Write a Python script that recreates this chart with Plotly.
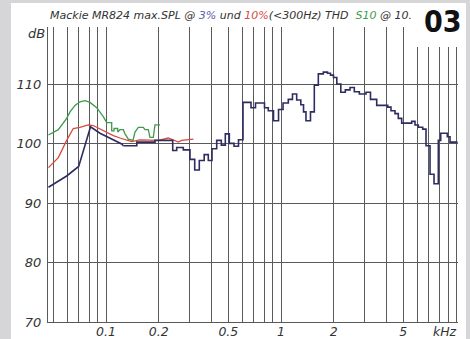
import plotly.graph_objects as go

# ---- data (frequency in kHz, level in dB) ----
blue_smooth_f = [0.0469, 0.0596, 0.0698, 0.0803, 0.0816, 0.0924, 0.1068, 0.123, 0.1256]
blue_smooth_db = [92.7, 94.6, 96.2, 102.6, 102.9, 101.8, 100.9, 100.0, 99.7]

blue_step_f = [0.1256, 0.150, 0.1905, 0.2406, 0.2535, 0.2765, 0.302, 0.3213, 0.3413, 0.364,
               0.3842, 0.4034, 0.4292, 0.456, 0.4806, 0.5066, 0.539, 0.5717, 0.6066, 0.674,
               0.715, 0.805, 0.846, 0.906, 0.968, 1.027, 1.101, 1.163, 1.229, 1.298,
               1.345, 1.389, 1.474, 1.550, 1.634, 1.745, 1.844, 1.918, 1.995, 2.084,
               2.197, 2.331, 2.480, 2.624, 2.803, 3.060, 3.246, 3.523, 4.072, 4.252,
               4.481, 4.680, 4.894, 5.583, 5.831, 6.090, 6.453, 6.740, 7.104, 7.488,
               7.924, 8.178, 8.919, 9.241, 10.1]
blue_step_db = [99.7, 100.3, 100.6, 98.9, 99.4, 99.0, 97.4, 95.6, 97.2, 98.2,
                97.2, 99.2, 100.6, 99.8, 101.7, 100.1, 99.6, 100.7, 107.0, 106.1,
                106.9, 106.1, 105.6, 103.9, 105.8, 106.9, 107.5, 108.4, 107.4, 106.6,
                105.4, 103.9, 105.4, 109.9, 111.8, 112.1, 111.9, 111.6, 111.2, 110.1,
                108.7, 109.1, 109.5, 108.8, 108.4, 108.7, 107.5, 106.5, 106.2, 105.6,
                105.1, 104.3, 103.5, 103.8, 103.2, 102.8, 102.5, 99.7, 94.9, 93.3,
                100.6, 101.8, 101.2, 100.3, 100.1]

red_f = [0.0469, 0.0534, 0.0596, 0.0650, 0.0710, 0.0792, 0.0846, 0.0924, 0.1009, 0.1101,
         0.1202, 0.1313, 0.1402, 0.156, 0.1784, 0.199, 0.227, 0.2425, 0.2589, 0.2707,
         0.302, 0.3162]
red_db = [96.0, 97.7, 100.6, 102.6, 102.8, 103.2, 103.1, 102.5, 101.9, 101.4,
          101.0, 100.6, 100.4, 100.7, 100.7, 100.6, 101.0, 100.7, 100.3, 100.6,
          100.8, 100.8]

green_f = [0.0469, 0.0534, 0.0596, 0.0623, 0.0665, 0.0710, 0.0759, 0.0810, 0.0885, 0.0965,
           0.1009, 0.1078, 0.1078, 0.1111, 0.1111, 0.1167, 0.1167, 0.1202, 0.1256, 0.1284,
           0.1341, 0.1426, 0.1465, 0.1530, 0.1634, 0.1670, 0.1745, 0.1784, 0.1863, 0.1905,
           0.2035]
green_db = [101.5, 102.4, 104.3, 105.4, 106.5, 107.1, 107.3, 107.0, 106.1, 104.6,
            103.6, 103.6, 102.2, 102.2, 102.6, 102.6, 102.0, 102.4, 102.4, 101.7,
            100.8, 100.6, 102.0, 102.8, 102.8, 102.4, 102.4, 101.1, 101.1, 103.2,
            103.2]

grid_f = [0.05, 0.06, 0.07, 0.08, 0.09, 0.1, 0.2, 0.3, 0.4, 0.5, 0.6, 0.7, 0.8, 0.9,
          1, 2, 3, 4, 5, 6, 7, 8, 9, 10]
x_tick_vals = [0.1, 0.2, 0.5, 1, 2, 5, 8.6]
x_tick_text = ["0.1", "0.2", "0.5", "1", "2", "5", "kHz"]
y_tick_vals = [70, 80, 90, 100, 110]
y_tick_text = ["70", "80", "90", "100", "110"]

NAVY = "#2e2d62"
RED = "#d64a3c"
GREEN = "#3f9a4c"
GRID = "#5a5a5a"

fig = go.Figure()
fig.add_trace(go.Scatter(x=green_f, y=green_db, mode="lines",
                         line=dict(color=GREEN, width=1.3), hoverinfo="skip"))
fig.add_trace(go.Scatter(x=red_f, y=red_db, mode="lines",
                         line=dict(color=RED, width=1.3), hoverinfo="skip"))
fig.add_trace(go.Scatter(x=blue_smooth_f, y=blue_smooth_db, mode="lines",
                         line=dict(color=NAVY, width=1.6), hoverinfo="skip"))
fig.add_trace(go.Scatter(x=blue_step_f, y=blue_step_db, mode="lines",
                         line=dict(color=NAVY, width=1.6, shape="hv"), hoverinfo="skip"))

L, R, T, B = 48, 12, 27, 17
W, H = 470, 339
pw, ph = W - L - R, H - T - B


def px(xp):
    return (xp - L) / pw


def py(yp):
    return (H - B - yp) / ph


tick_font = dict(family="DejaVu Sans", size=13, color="#333333", style="italic")

fig.update_layout(
    width=W, height=H,
    margin=dict(l=L, r=R, t=T, b=B, autoexpand=False),
    paper_bgcolor="#d6d6d8",
    plot_bgcolor="white",
    showlegend=False,
    xaxis=dict(
        type="log", range=[-1.3314, 1.0114], automargin=False,
        tickmode="array", tickvals=x_tick_vals, ticktext=x_tick_text,
        showgrid=False, zeroline=False,
        showline=True, linecolor=GRID, linewidth=1, mirror=False,
        ticks="", ticklabelstandoff=-2,
        tickfont=dict(family="DejaVu Sans", size=12.5, color="#333333", style="italic"),
        minor=dict(tickmode="array", tickvals=grid_f, showgrid=True,
                   gridcolor=GRID, gridwidth=1, ticks=""),
    ),
    yaxis=dict(
        range=[70, 119.7], automargin=False,
        tickmode="array", tickvals=y_tick_vals, ticktext=y_tick_text,
        showgrid=True, gridcolor=GRID, gridwidth=1, zeroline=False,
        showline=True, linecolor=GRID, linewidth=1,
        ticks="", ticklabelstandoff=3,
        tickfont=tick_font,
    ),
    shapes=[
        dict(type="rect", xref="paper", yref="paper", layer="below",
             x0=px(11), x1=px(466), y0=py(3), y1=py(H + 5),
             fillcolor="white", line=dict(width=0)),
        dict(type="rect", xref="paper", yref="paper", layer="above",
             x0=px(414), x1=px(466), y0=py(3), y1=py(47),
             fillcolor="white", line=dict(width=0)),
    ],
    annotations=[
        dict(xref="paper", yref="paper", x=px(48), y=py(16), xanchor="left", yanchor="middle",
             showarrow=False,
             font=dict(family="DejaVu Sans", size=11, color="#333333", style="italic"),
             text=("Mackie MR824 max.SPL @ <span style='color:#5a5aa8'>3%</span> und "
                   "<span style='color:#d84a40'>10%</span>(&lt;300Hz) THD  "
                   "<span style='color:#3f9a4c'>S10</span> @ 10.")),
        dict(xref="paper", yref="paper", x=px(47), y=py(33), xanchor="right", yanchor="middle",
             showarrow=False, text="dB",
             font=dict(family="DejaVu Sans", size=13, color="#333333", style="italic")),
        dict(xref="paper", yref="paper", x=px(443), y=py(21), xanchor="center", yanchor="middle",
             showarrow=False, text="<b>03</b>",
             font=dict(family="DejaVu Sans Condensed", size=30, color="#111111")),
    ],
)

fig.write_html("out.html")
